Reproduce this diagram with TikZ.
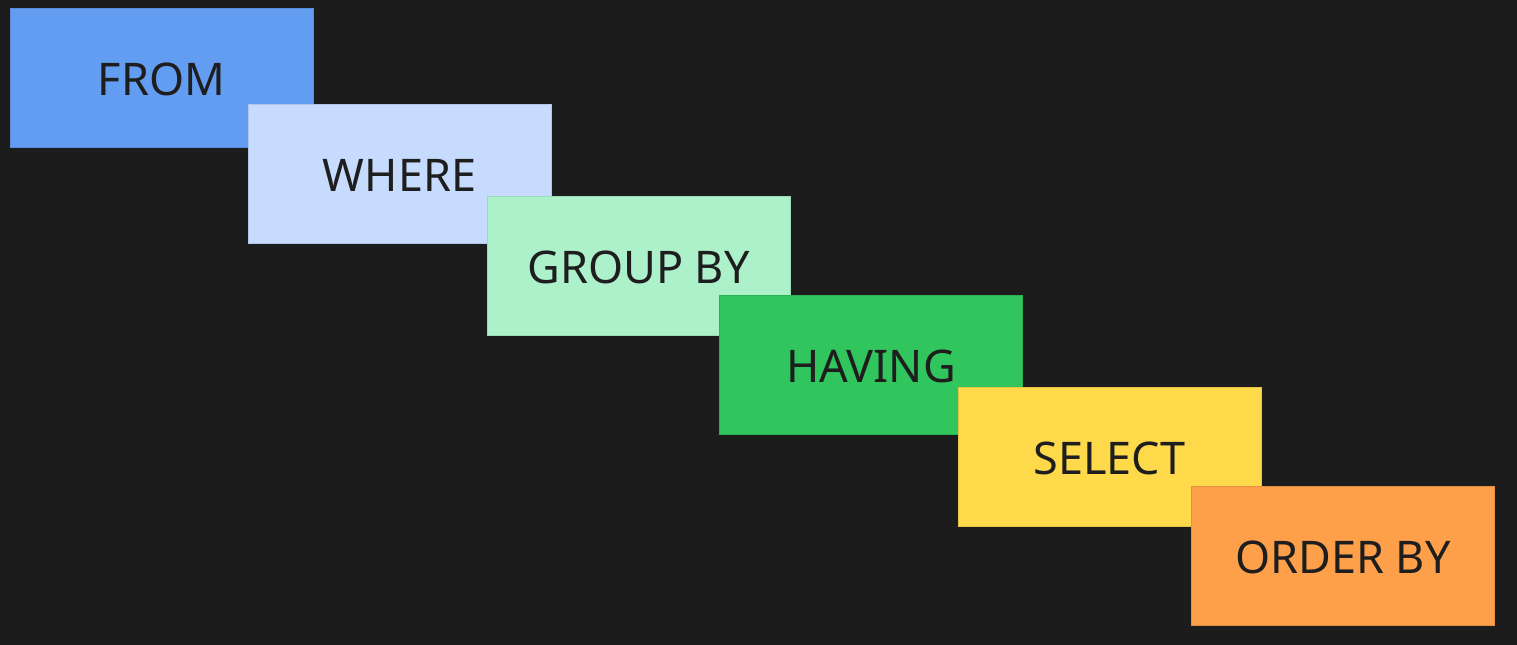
\documentclass[tikz,border=0pt]{standalone}
\usepackage{fontspec}
\setmainfont{Noto Sans}
\usepackage{tikz}
\definecolor{bgdark}{HTML}{1C1C1C}
\definecolor{txtdark}{HTML}{1E1E1E}
\definecolor{cFrom}{HTML}{639DF1}
\definecolor{cWhere}{HTML}{C6DBFE}
\definecolor{cGroup}{HTML}{ADF1CA}
\definecolor{cHaving}{HTML}{30C65D}
\definecolor{cSelect}{HTML}{FEDA4A}
\definecolor{cOrder}{HTML}{FE9F4A}
\tikzset{
  clausebox/.style={draw=#1!90!black, fill=#1, line width=0.4pt,
    minimum width=6.06cm, minimum height=2.78cm, inner sep=0pt,
    text height=0.71cm, text depth=0pt,
    text=txtdark, font=\fontsize{25.6}{30}\selectfont},
}
\newcommand{\sqlclause}[5]{%
  \node[clausebox=#4] (#1) at (#2,#3) {#5};}

\begin{document}
\begin{tikzpicture}[x=0.02cm, y=-0.02cm]
  \fill[bgdark] (0,0) rectangle (1517,645);
  \useasboundingbox (0,0) rectangle (1517,645);

  \sqlclause{from}{161.5}{77.5}{cFrom}{FROM}
  \sqlclause{where}{399.5}{173.5}{cWhere}{WHERE}
  \sqlclause{groupby}{638.5}{265.5}{cGroup}{GROUP BY}
  \sqlclause{having}{871}{365}{cHaving}{HAVING}
  \sqlclause{select}{1109.5}{456.5}{cSelect}{SELECT}
  \sqlclause{orderby}{1343}{555.5}{cOrder}{ORDER BY}
\end{tikzpicture}
\end{document}
